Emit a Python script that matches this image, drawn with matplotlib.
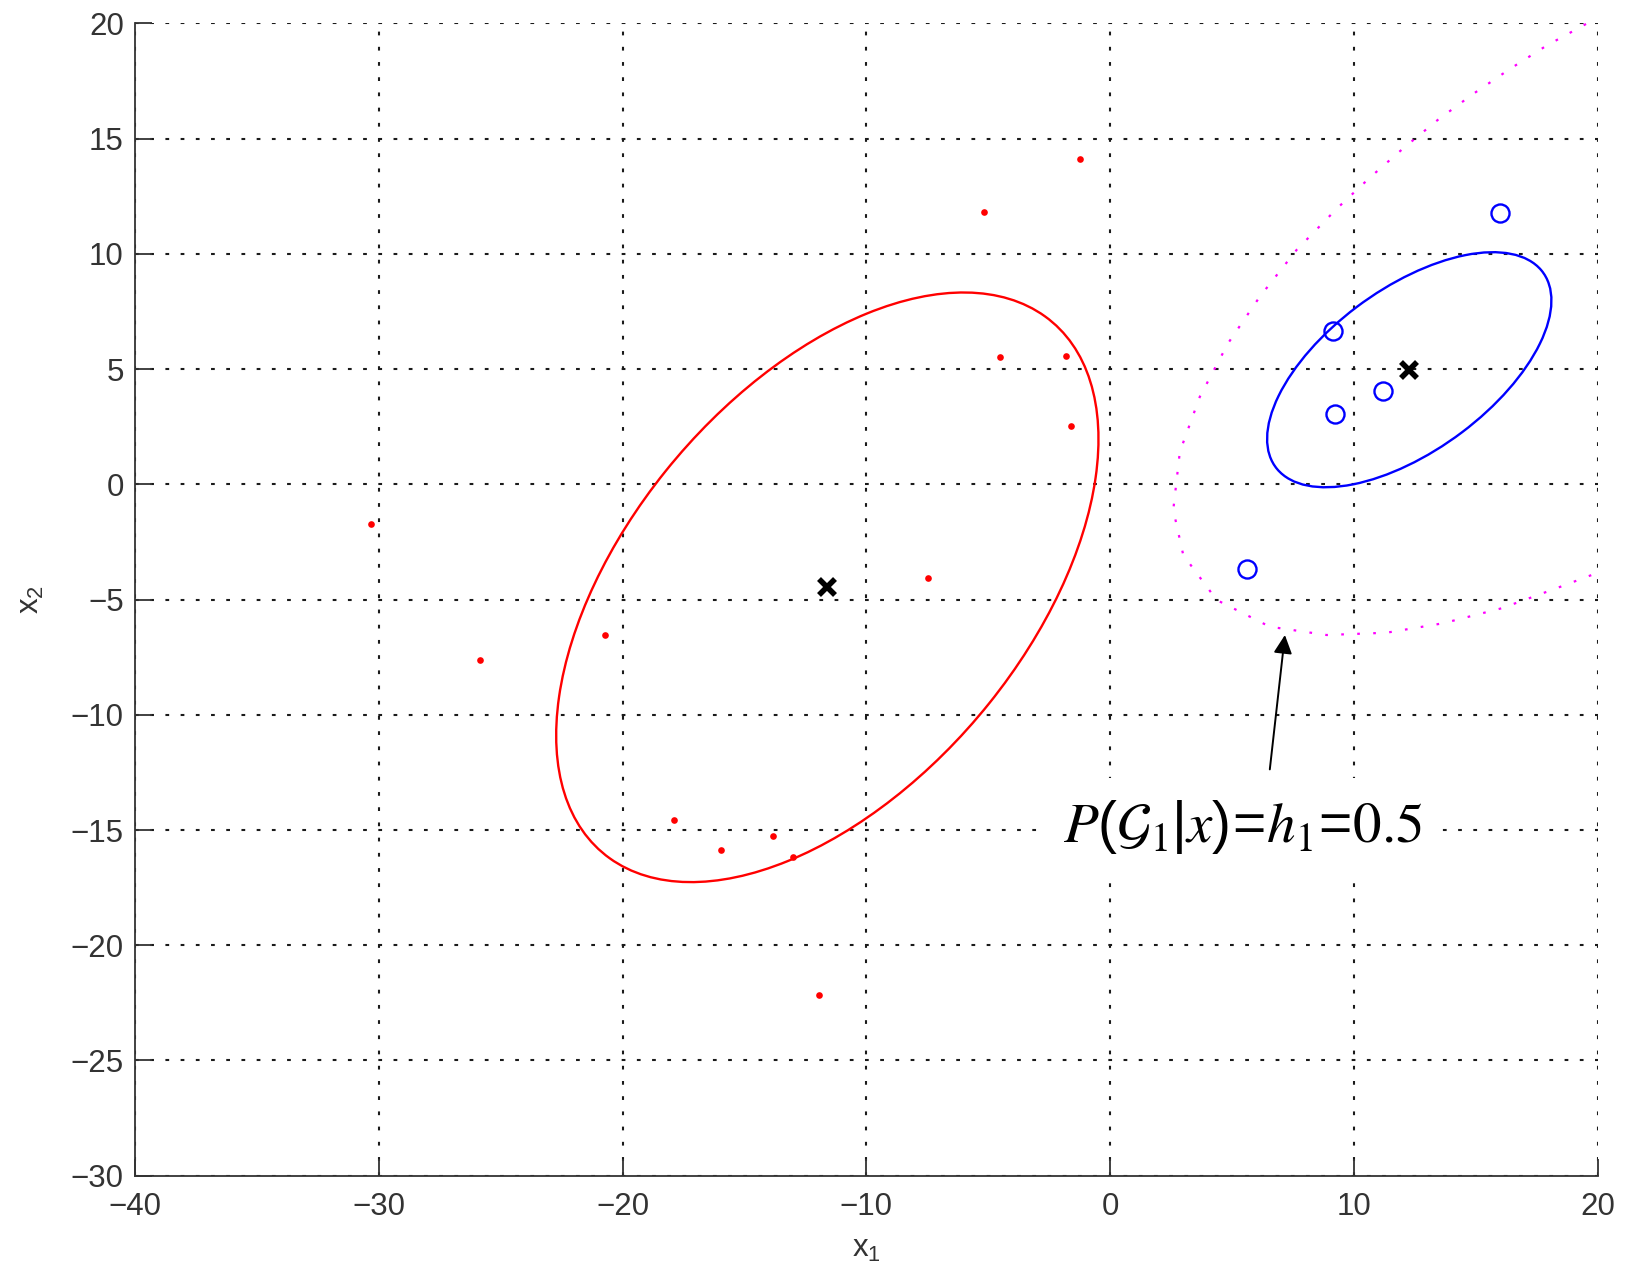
import numpy as np
import matplotlib
matplotlib.use("Agg")
import matplotlib.pyplot as plt
from matplotlib.patches import Ellipse

plt.rcParams['font.family'] = ['Liberation Sans', 'DejaVu Sans']
plt.rcParams['mathtext.fontset'] = 'custom'
plt.rcParams['mathtext.rm'] = 'Liberation Sans'
plt.rcParams['mathtext.it'] = 'Liberation Sans:italic'
plt.rcParams['mathtext.default'] = 'regular'

# ---------------- data ----------------
red_x = [-30.33, -25.86, -20.73, -17.89, -15.95, -13.82, -13.00, -11.93,
         -7.47, -5.16, -1.23, -4.52, -1.79, -1.62]
red_y = [-1.74, -7.62, -6.55, -14.56, -15.88, -15.26, -16.16, -22.16,
         -4.05, 11.80, 14.13, 5.52, 5.55, 2.54]

blue_x = [15.99, 9.15, 11.18, 9.23, 5.62]
blue_y = [11.76, 6.65, 4.05, 3.04, -3.67]

red_mean = [-11.6, -4.47]
red_cov = [[123.7, 71.5], [71.5, 163.6]]
blue_mean = [12.27, 4.97]
blue_cov = [[34.0, 17.5], [17.5, 26.0]]

# posterior = 0.5 boundary
bnd_x = [19.52, 17.90, 16.40, 14.87, 13.43, 12.04, 10.68, 9.33, 7.65, 6.14,
         4.84, 3.68, 2.86, 2.59, 3.00, 4.37, 6.55, 8.88, 11.34, 13.66,
         16.06, 18.31, 20.02]
bnd_y = [19.97, 19.03, 18.02, 16.92, 15.80, 14.59, 13.33, 11.99, 10.17, 8.14,
         6.12, 3.80, 1.41, -1.11, -3.07, -5.02, -6.18, -6.54, -6.44, -6.03,
         -5.38, -4.51, -3.83]

arrow_tail = (6.55, -12.37)
arrow_head = (7.17, -6.54)
label_text = (r'$\mathit{P}(\mathcal{G}_{\mathit{1}}|\mathit{x})\!=\!'
              r'\mathit{h}_{\mathrm{1}}\!=\!\mathrm{0.5}$')

xticks = [-40, -30, -20, -10, 0, 10, 20]
yticks = [-30, -25, -20, -15, -10, -5, 0, 5, 10, 15, 20]

# ---------------- figure ----------------
fig = plt.figure(figsize=(16.26, 12.73), dpi=100)
ax = fig.add_axes([0.0830, 0.0764, 0.8996, 0.9053])
ax.set_xlim(-40, 20)
ax.set_ylim(-30, 20)

for s in ['top', 'right']:
    ax.spines[s].set_visible(False)
for s in ['left', 'bottom']:
    ax.spines[s].set_linewidth(1.3)
    ax.spines[s].set_color('#333333')

ax.set_xticks(xticks)
ax.set_yticks(yticks)
ax.tick_params(direction='in', length=12, width=1.3, labelsize=22.5,
               colors='#333333', labelcolor='#333333')
ax.tick_params(axis='x', pad=12)
ax.tick_params(axis='y', pad=8)
ax.grid(True, color='#1a1a1a', linewidth=1.5, linestyle=(0, (1.8, 5.5)))
ax.set_axisbelow(True)

def cov_ellipse(mean, cov, color):
    vals, vecs = np.linalg.eigh(np.array(cov))
    order = vals.argsort()[::-1]
    vals, vecs = vals[order], vecs[:, order]
    angle = np.degrees(np.arctan2(vecs[1, 0], vecs[0, 0]))
    e = Ellipse(mean, 2 * np.sqrt(vals[0]), 2 * np.sqrt(vals[1]), angle=angle,
                fill=False, edgecolor=color, linewidth=1.7, zorder=3)
    ax.add_patch(e)

cov_ellipse(red_mean, red_cov, '#ff0000')
cov_ellipse(blue_mean, blue_cov, '#0000ff')

ax.plot(red_x, red_y, linestyle='none', marker='o', markersize=4.8,
        color='#ff0000', markeredgewidth=0, zorder=4)
ax.plot(blue_x, blue_y, linestyle='none', marker='o', markersize=13,
        markerfacecolor='none', markeredgecolor='#0000ff', markeredgewidth=1.7, zorder=4)
ax.plot([red_mean[0], blue_mean[0]], [red_mean[1], blue_mean[1]], linestyle='none',
        marker='x', markersize=11, markeredgewidth=4, color='black', zorder=5)

ax.plot(bnd_x, bnd_y, color='#ff00ff', linewidth=1.6, linestyle=(0, (1.2, 6)), zorder=3)

ax.annotate('', xy=arrow_head, xytext=arrow_tail,
            arrowprops=dict(arrowstyle='-|>', color='black', lw=1.4,
                            mutation_scale=28, shrinkA=0, shrinkB=0), zorder=6)

t = ax.text(5.45, -15.5, label_text, fontsize=41, ha='center', va='baseline',
            math_fontfamily='stix', zorder=6,
            bbox=dict(facecolor='white', edgecolor='none', pad=14))

ax.set_xlabel(r'x$_1$', fontsize=22.5, color='#333333', labelpad=8)
ax.set_ylabel(r'x$_2$', fontsize=22.5, color='#333333', labelpad=18)

fig.savefig('out.png', dpi=100)
